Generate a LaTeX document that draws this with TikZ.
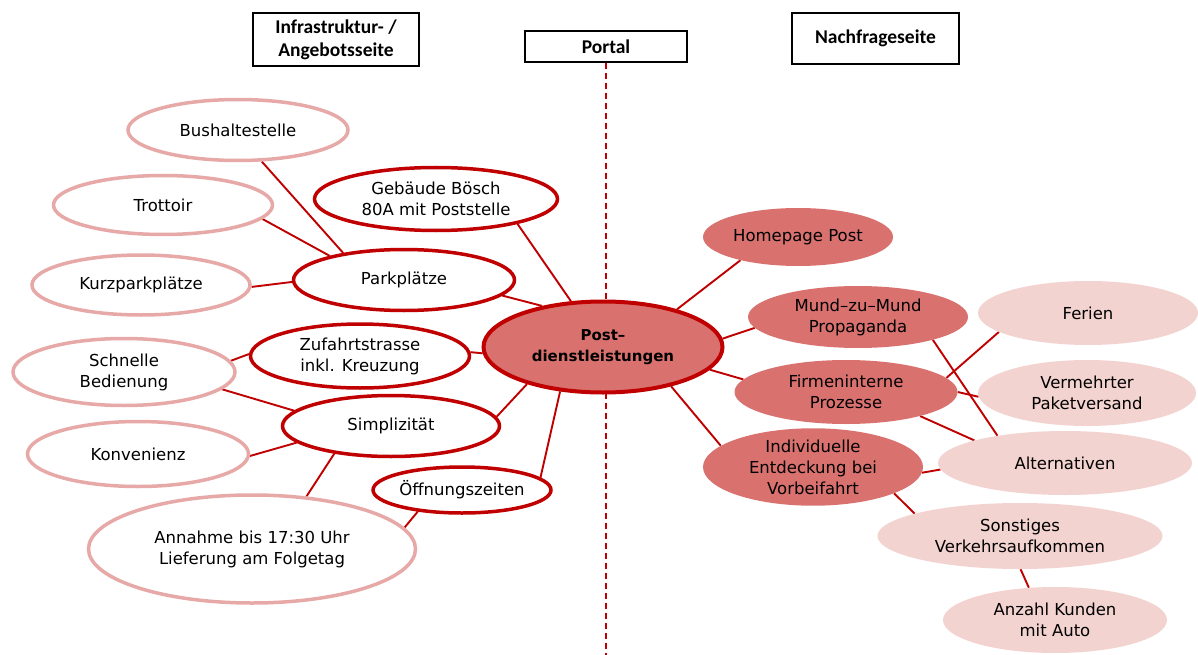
\documentclass[tikz,border=0pt]{standalone}
\usepackage{fontspec}
\setmainfont{DejaVu Sans}
\newfontfamily\headfont{Carlito}
\usetikzlibrary{shapes.geometric,backgrounds}
\definecolor{darkred}{HTML}{C00000}
\definecolor{rosebord}{HTML}{E7A9A7}
\definecolor{midred}{HTML}{D9716F}
\definecolor{lightrose}{HTML}{F2D3CF}

\begin{document}
\begin{tikzpicture}[x=1pt,y=-1pt,
  bub/.style={ellipse, inner sep=0pt, align=center,
              font=\fontsize{16.5}{21}\selectfont},
  outer/.style={bub, draw=rosebord, line width=3.5pt, fill=white},
  inner/.style={bub, draw=darkred, line width=3.5pt, fill=white},
  core/.style={bub, draw=darkred, line width=4pt, fill=midred,
               font=\fontsize{15}{21}\selectfont\bfseries},
  demand/.style={bub, fill=midred},
  factor/.style={bub, fill=lightrose},
  link/.style={darkred, line width=1.9pt},
  header/.style={draw=black, line width=1.5pt, fill=white, align=center,
                 inner sep=0pt, font=\headfont\fontsize{19.5}{23}\selectfont\bfseries},
  sz/.style 2 args={minimum width=#1pt, minimum height=#2pt}
]
\useasboundingbox (0,0) rectangle (1198,655);

% column headers
\node[header, sz={166}{53}] (infra) at (336,39.5) {Infrastruktur- /\\Angebotsseite};
\node[header, sz={162}{31}] (portal) at (606,46.5) {Portal};
\node[header, sz={167}{51}] (demandhd) at (875.5,38.5) {Nachfrageseite};

% central service
\node[core, sz={239}{91}] (post) at (603,347) {Post–\\dienstleistungen};

% supply side: direct factors
\node[inner, sz={243}{63}] (geb)  at (436,199) {Gebäude Bösch\\80A mit Poststelle};
\node[inner, sz={221}{61}] (park) at (404,280) {Parkplätze};
\node[inner, sz={219}{64}] (zuf)  at (360,356) {Zufahrtstrasse\\inkl. Kreuzung};
\node[inner, sz={217}{61}] (simp) at (391,426) {Simplizität};
\node[inner, sz={178}{46}] (oeff) at (462,490) {Öffnungszeiten};

% supply side: secondary factors
\node[outer, sz={220}{61}] (bus)   at (238,130) {Bushaltestelle};
\node[outer, sz={219}{59}] (trot)  at (163,205) {Trottoir};
\node[outer, sz={218}{60}] (kurz)  at (141,285) {Kurzparkplätze};
\node[outer, sz={222}{67}] (schn)  at (124,372) {Schnelle\\Bedienung};
\node[outer, sz={221}{65}] (konv)  at (138,454) {Konvenienz};
\node[outer, sz={327}{108}] (annah) at (252,549) {Annahme bis 17:30 Uhr\\Lieferung am Folgetag};

% demand side: channels
\node[demand, sz={190}{58}] (home) at (798,237) {Homepage Post};
\node[demand, sz={220}{62}] (mund) at (858,317) {Mund–zu–Mund\\Propaganda};
\node[demand, sz={223}{64}] (firm) at (846,392) {Firmeninterne\\Prozesse};
\node[demand, sz={220}{68}] (indiv) at (813,467) {Individuelle\\Entdeckung bei\\Vorbeifahrt};

% demand side: influences
\node[factor, sz={220}{64}] (ferien) at (1088,313) {Ferien};
\node[factor, sz={218}{66}] (verm)   at (1087,393) {Vermehrter\\Paketversand};
\node[factor, sz={254}{64}] (alt)    at (1065,463) {Alternativen};
\node[factor, sz={285}{66}] (sonst)  at (1020,536) {Sonstiges\\Verkehrsaufkommen};
\node[factor, sz={224}{66}] (anz)    at (1055,620) {Anzahl Kunden\\mit Auto};

\coordinate (divend) at (606,655);

\begin{scope}[on background layer]
  % divider between supply and demand
  \draw[darkred, line width=1.2pt, dash pattern=on 6pt off 4pt] (portal.south) -- (divend);

  % supply side links
  \draw[link] (bus.-53)  -- (park.156);
  \draw[link] (trot.-8)  -- (park.162);
  \draw[link] (kurz.-1)  -- (park.181);
  \draw[link] (geb.-17)  -- (post.125);
  \draw[link] (park.-9)  -- (post.146);
  \draw[link] (zuf.179)  -- (schn.6);
  \draw[link] (zuf.2)    -- (post.183);
  \draw[link] (schn.-10) -- (simp.171);
  \draw[link] (konv.-1)  -- (simp.190);
  \draw[link] (simp.5)   -- (post.206);
  \draw[link] (simp.206) -- (annah.44);
  \draw[link] (oeff.9)   -- (post.-134);
  \draw[link] (oeff.-154) -- (annah.8);

  % demand side links
  \draw[link] (post.27)  -- (home.202);
  \draw[link] (post.4)   -- (mund.186);
  \draw[link] (post.-12) -- (firm.173);
  \draw[link] (post.-30) -- (indiv.167);
  \draw[link] (mund.-17) -- (alt.158);
  \draw[link] (firm.8)   -- (ferien.192);
  \draw[link] (firm.0)   -- (verm.182);
  \draw[link] (firm.-18) -- (alt.166);
  \draw[link] (indiv.-3) -- (alt.183);
  \draw[link] (indiv.-18) -- (sonst.168);
  \draw[link] (sonst.-89) -- (anz.129);
\end{scope}
\end{tikzpicture}
\end{document}
